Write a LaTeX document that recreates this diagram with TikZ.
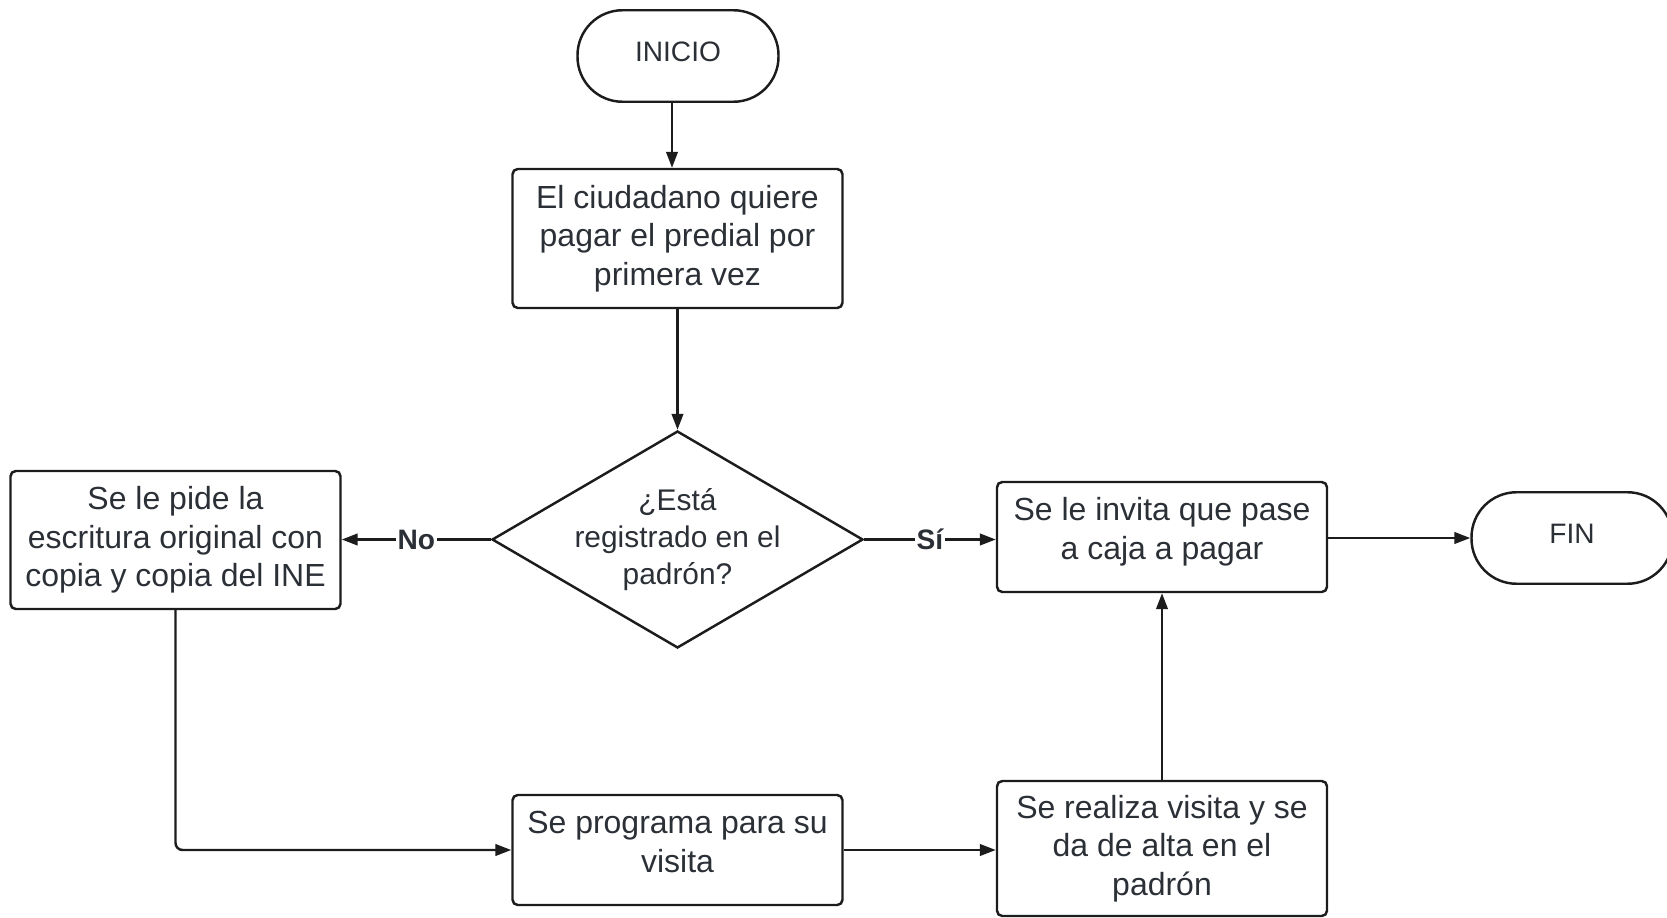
\documentclass[tikz,border=0pt]{standalone}
\usepackage{fontspec}
\setmainfont{Liberation Sans}
\usetikzlibrary{shapes.geometric,arrows.meta}
\definecolor{txt}{HTML}{2B2F36}
\definecolor{ln}{HTML}{1C1C1C}
\begin{document}
\begin{tikzpicture}[draw=ln,line width=1.4pt,>={Triangle[length=9pt,width=6.5pt]}]
	\tikzstyle{box}=[rectangle,draw,rounded corners=3pt,text=txt,align=center,inner sep=0pt,
		minimum width=6.6cm,font=\fontsize{18.2}{22}\selectfont]
	\tikzstyle{term}=[rectangle,draw,rounded corners=0.9cm,text=txt,minimum width=4.02cm,
		minimum height=1.83cm,text depth=4.6pt,font=\fontsize{16}{19}\selectfont]
	\tikzstyle{dec}=[diamond,draw,minimum width=7.42cm,minimum height=4.34cm,inner sep=0pt]
	\tikzstyle{lbl}=[fill=white,inner sep=1pt,text=txt,font=\bfseries\fontsize{16}{19}\selectfont]
	\useasboundingbox (0,0) rectangle (33.34,-18.36);
	% nodes
	\node[term](inicio) at (13.56,-1.12){INICIO};
	\node[box,minimum height=2.78cm](quiere) at (13.55,-4.77){El ciudadano quiere\\pagar el predial por\\primera vez};
	\node[dec](padron) at (13.55,-10.79){};
	\node[text=txt,align=center,font=\fontsize{17}{21}\selectfont](padron-txt) at (padron){¿Está\\registrado en el\\padrón?};
	\node[box,minimum height=2.76cm](pide) at (3.51,-10.8){Se le pide la\\escritura original con\\copia y copia del INE};
	\node[box,minimum height=2.2cm,text depth=9.5pt](invita) at (23.24,-10.74){Se le invita que pase\\a caja a pagar};
	\node[term](fin) at (31.44,-10.76){FIN};
	\node[box,minimum height=2.2cm,text depth=9pt](programa) at (13.55,-17.0){Se programa para su\\visita};
	\node[box,minimum height=2.7cm](realiza) at (23.24,-16.97){Se realiza visita y se\\da de alta en el\\padrón};
	% connectors
	\draw[->] ([xshift=-0.12cm]inicio.south) -- ([xshift=-0.12cm]inicio.south |- quiere.north);
	\draw[->] (quiere.south) -- (padron.north);
	\draw[->] (padron.west) -- node[lbl]{No} (pide.east |- padron.west);
	\draw[->] (padron.east) -- node[lbl]{Sí} (invita.west |- padron.east);
	\draw[->] (invita.east |- fin.west) -- (fin.west);
	\draw[->,rounded corners=4pt] (pide.south) |- (programa.west);
	\draw[->] (programa.east) -- (realiza.west |- programa.east);
	\draw[->] (realiza.north) -- (invita.south);
\end{tikzpicture}
\end{document}
